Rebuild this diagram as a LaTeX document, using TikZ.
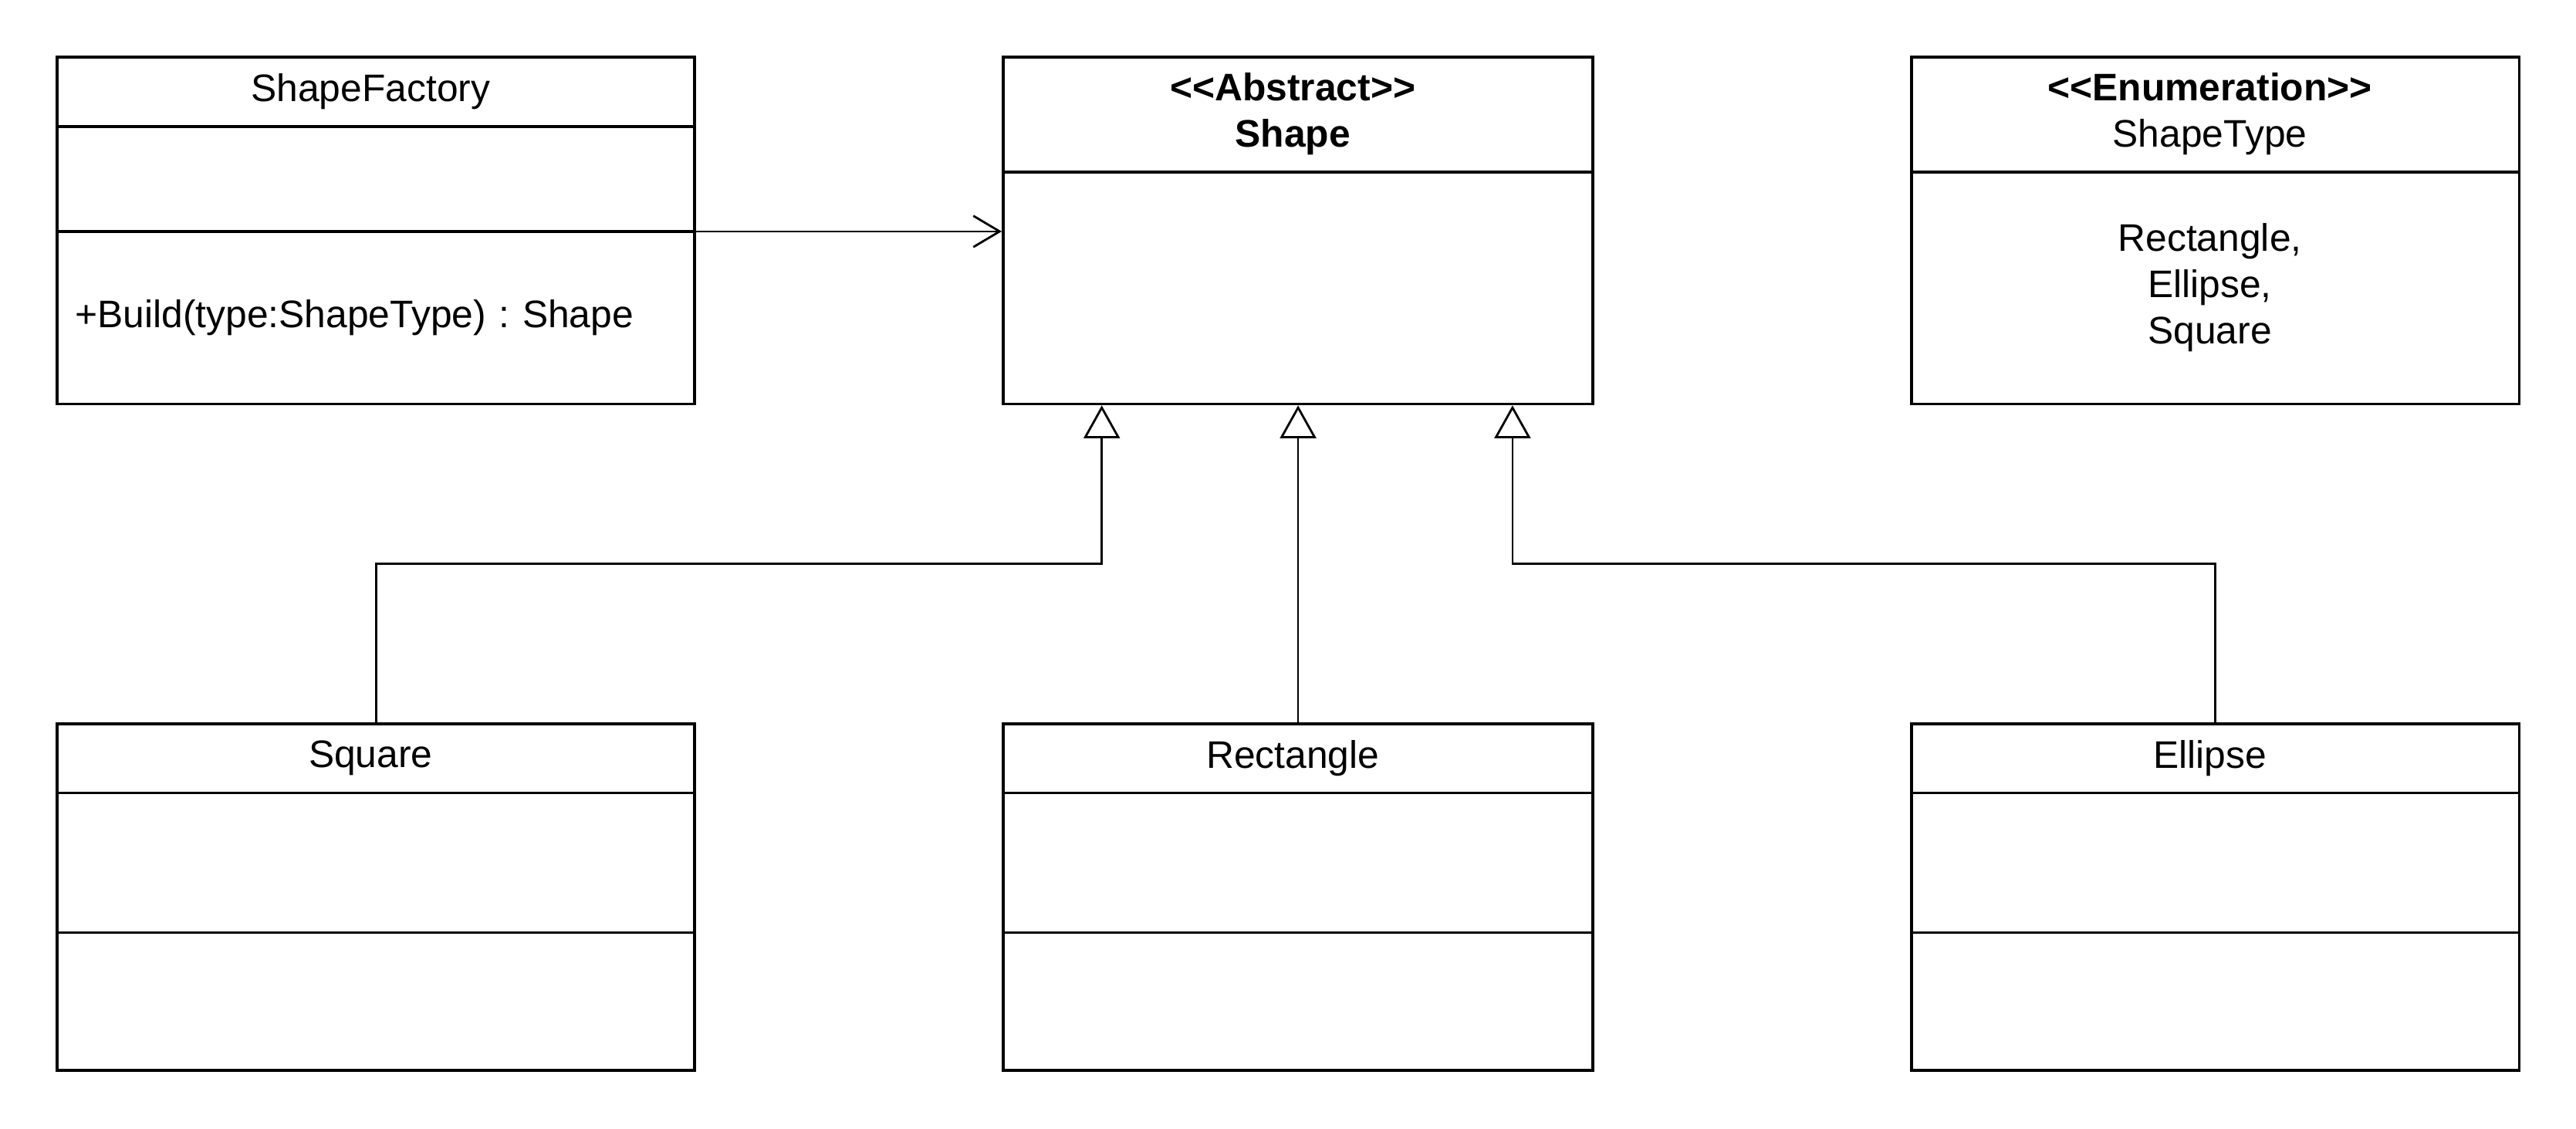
\documentclass[tikz,border=0pt]{standalone}
\usepackage{fontspec}
\newfontfamily\umlfont{Liberation Sans}
\usetikzlibrary{positioning,matrix,arrows.meta,calc}

\newcommand{\lines}[1]{\begin{tabular}{@{}c@{}}#1\end{tabular}}

\tikzset{
    umlclass/.style={matrix of nodes, inner sep=0pt, outer sep=0pt,
        row sep=-1pt, nodes in empty cells,
        nodes={draw, line width=1pt, minimum width=#1, inner sep=0pt,
            font=\umlfont\fontsize{13.3}{16}\selectfont\frenchspacing, align=center}},
    inherits/.style={line width=0.75pt, -{Triangle[open, length=4mm, width=4.4mm]}},
    uses/.style={line width=0.75pt, -{Straight Barb[length=3.2mm, width=3.8mm]}}
}

\begin{document}
\begin{tikzpicture}
      \useasboundingbox (0,0) rectangle (31.36,-13.74);

      % Factory class
      \matrix(factory)[umlclass=7.76cm, anchor=north west,
          row 1/.style={nodes={minimum height=8.4mm}},
          row 2/.style={nodes={minimum height=12.8mm}},
          row 3/.style={nodes={minimum height=21mm, text width=7.32cm,
              inner xsep=2.2mm, align=left}}]
          at (0.68,-0.68)
      {
          ShapeFactory \\
          \\
          +Build(type:ShapeType) : Shape \\
      };

      % Abstract base class
      \matrix(shape)[umlclass=7.18cm, right=3.72cm of factory,
          row 1/.style={nodes={minimum height=14mm}},
          row 2/.style={nodes={minimum height=28.2mm}}]
      {
          \lines{\textbf{<<Abstract>>}\\\textbf{Shape}} \\
          \\
      };

      % Enumeration
      \matrix(enum)[umlclass=7.40cm, right=3.84cm of shape,
          row 1/.style={nodes={minimum height=14mm}},
          row 2/.style={nodes={minimum height=28.2mm}}]
      {
          \lines{\textbf{<<Enumeration>>}\\ShapeType} \\
          \lines{Rectangle,\\Ellipse,\\Square} \\
      };

      % Concrete classes
      \matrix(square)[umlclass=7.76cm, below=3.86cm of factory,
          row 1/.style={nodes={minimum height=8.4mm}},
          row 2/.style={nodes={minimum height=17mm}},
          row 3/.style={nodes={minimum height=16.8mm}}]
      {
          Square \\
          \\
          \\
      };

      \matrix(rectangle)[umlclass=7.18cm, below=3.86cm of shape,
          row 1/.style={nodes={minimum height=8.4mm}},
          row 2/.style={nodes={minimum height=17mm}},
          row 3/.style={nodes={minimum height=16.8mm}}]
      {
          Rectangle \\
          \\
          \\
      };

      \matrix(ellipse)[umlclass=7.40cm, below=3.86cm of enum,
          row 1/.style={nodes={minimum height=8.4mm}},
          row 2/.style={nodes={minimum height=17mm}},
          row 3/.style={nodes={minimum height=16.8mm}}]
      {
          Ellipse \\
          \\
          \\
      };

      % Factory uses Shape
      \draw[uses] (factory-2-1.south east) -- (factory-2-1.south east -| shape.west);

      % Inheritance
      \coordinate (bus) at ($(shape.south)!0.5!(rectangle.north)$);
      \draw[inherits] (square-1-1.north) |- ([xshift=-2.39cm]bus) -- ([xshift=-2.39cm]shape.south);
      \draw[inherits] (rectangle-1-1.north) -- (shape.south);
      \draw[inherits] (ellipse-1-1.north) |- ([xshift=2.61cm]bus) -- ([xshift=2.61cm]shape.south);

\end{tikzpicture}
\end{document}
